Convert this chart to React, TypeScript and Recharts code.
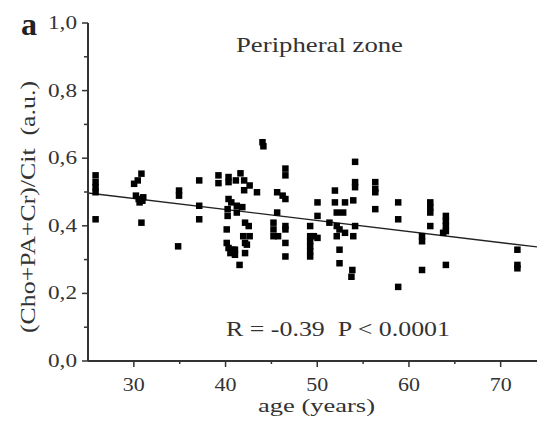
import React from 'react';
import { ScatterChart, Scatter, XAxis, YAxis, ReferenceLine } from 'recharts';

const ages: number[] = [
  25.8, 25.8, 25.8, 25.8, 25.8,
  30.0, 30.4, 30.8, 30.2, 30.5, 30.9, 30.6, 31.0, 30.8,
  34.9, 34.9, 34.8,
  37.1, 37.1, 37.1,
  39.2, 39.2, 40.3, 40.3, 40.3, 40.2, 40.2, 40.1, 40.1, 40.3, 40.5, 40.8, 41.0,
  41.2, 41.8, 42.1, 42.1, 42.1, 41.5, 41.6, 42.0, 42.0, 42.6, 43.4, 41.1, 41.2,
  42.5, 41.9, 42.6, 42.3, 41.0, 40.6,
  44.0, 44.1,
  45.6, 46.2, 46.5, 45.6, 45.2, 45.2, 46.5, 46.5, 46.5, 46.5, 45.2, 45.7, 46.5, 46.5,
  50.0, 50.0, 49.2, 49.2, 49.2, 49.2, 49.2, 49.2, 50.0, 49.6,
  51.9, 51.9, 53.0, 52.1, 52.8, 51.3, 52.1, 52.4, 52.1, 53.0, 52.4, 52.4, 53.8, 53.7,
  54.1, 54.1, 54.1, 53.9, 54.1, 53.9,
  56.3, 56.3, 56.3, 56.3,
  58.8, 58.8, 58.8,
  61.4, 61.4, 61.4,
  62.3, 62.3, 62.3, 62.3,
  64.0, 64.0, 64.0, 64.0, 63.7, 64.0,
  71.8, 71.8, 71.8,
];

const ratios: number[] = [
  0.55, 0.53, 0.515, 0.50, 0.42,
  0.525, 0.535, 0.555, 0.49, 0.48, 0.475, 0.47, 0.485, 0.41,
  0.505, 0.49, 0.34,
  0.535, 0.46, 0.42,
  0.55, 0.527, 0.545, 0.53, 0.48, 0.45, 0.43, 0.39, 0.35, 0.335, 0.32, 0.33, 0.315,
  0.46, 0.456, 0.41, 0.35, 0.32, 0.285, 0.556, 0.535, 0.506, 0.52, 0.50, 0.535, 0.44,
  0.40, 0.37, 0.37, 0.345, 0.33, 0.47,
  0.648, 0.636,
  0.50, 0.49, 0.48, 0.44, 0.41, 0.39, 0.57, 0.55, 0.40, 0.39, 0.37, 0.37, 0.35, 0.31,
  0.47, 0.43, 0.40, 0.37, 0.355, 0.34, 0.325, 0.31, 0.365, 0.37,
  0.505, 0.47, 0.47, 0.44, 0.44, 0.41, 0.40, 0.39, 0.37, 0.38, 0.33, 0.29, 0.27, 0.25,
  0.59, 0.53, 0.515, 0.476, 0.40, 0.37,
  0.53, 0.51, 0.50, 0.45,
  0.47, 0.42, 0.22,
  0.37, 0.355, 0.27,
  0.47, 0.455, 0.44, 0.40,
  0.43, 0.415, 0.40, 0.385, 0.38, 0.285,
  0.33, 0.285, 0.275,
];

const fitAges: number[] = [25, 75];
const fitValues: number[] = [0.497, 0.334];

const xTicks: number[] = [30, 35, 40, 45, 50, 55, 60, 65, 70, 75];
const yTicks: number[] = [0, 0.1, 0.2, 0.3, 0.4, 0.5, 0.6, 0.7, 0.8, 0.9, 1.0];

const points = ages.map((a, i) => ({ age: a, v: ratios[i] }));

const SERIF = "'Liberation Serif', 'Times New Roman', serif";
const INK = '#333';

const YTick = (props: any) => {
  const { x, y, payload } = props;
  const v: number = payload.value;
  const major = Math.round(v * 10) % 2 === 0;
  return (
    <g>
      <line x1={x - (major ? 6 : 4)} x2={x} y1={y} y2={y} stroke={INK} strokeWidth={1.5} />
      {major && (
        <text
          x={x - 11}
          y={y + 6}
          textAnchor="end"
          fontFamily={SERIF}
          fontSize={19}
          fill={INK}
          textLength={29}
          lengthAdjust="spacingAndGlyphs"
        >
          {v.toFixed(1).replace('.', ',')}
        </text>
      )}
    </g>
  );
};

const XTick = (props: any) => {
  const { x, y, payload } = props;
  const v: number = payload.value;
  const major = v % 10 === 0;
  return (
    <g>
      <line x1={x} x2={x} y1={y} y2={y + (major ? 6 : 3)} stroke={INK} strokeWidth={1.5} />
      {major && (
        <text
          x={x}
          y={y + 30}
          textAnchor="middle"
          fontFamily={SERIF}
          fontSize={18}
          fill={INK}
          textLength={22}
          lengthAdjust="spacingAndGlyphs"
        >
          {v}
        </text>
      )}
    </g>
  );
};

const SquareDot = (props: any) => {
  const { cx, cy } = props;
  if (cx == null || cy == null) return null;
  return <rect x={cx - 3} y={cy - 3} width={6.5} height={6.5} fill="#000" />;
};

export default function App() {
  return (
    <div style={{ position: 'fixed', left: 0, top: 0, width: 537, height: 421, overflow: 'hidden', background: '#fff' }}>
      <ScatterChart width={560} height={421} margin={{ top: 23, right: 13.5, bottom: 0, left: 0 }}>
        <XAxis
          dataKey="age"
          type="number"
          domain={[25, 75]}
          ticks={xTicks}
          interval={0}
          height={60}
          tickSize={0}
          tickMargin={0}
          tickLine={false}
          tick={<XTick />}
          axisLine={{ stroke: INK, strokeWidth: 2 }}
          allowDataOverflow
        />
        <YAxis
          dataKey="v"
          type="number"
          domain={[0, 1]}
          ticks={yTicks}
          interval={0}
          width={88}
          tickSize={0}
          tickMargin={0}
          tickLine={false}
          tick={<YTick />}
          axisLine={{ stroke: INK, strokeWidth: 2 }}
        />
        <ReferenceLine
          segment={[
            { x: fitAges[0], y: fitValues[0] },
            { x: fitAges[1], y: fitValues[1] },
          ]}
          stroke="#222"
          strokeWidth={1.3}
          ifOverflow="visible"
        />
        <Scatter data={points} shape={<SquareDot />} isAnimationActive={false} />
      </ScatterChart>
      <svg width={537} height={421} style={{ position: 'absolute', left: 0, top: 0, pointerEvents: 'none' }}>
        <text x={21} y={35} fontFamily={SERIF} fontWeight="bold" fontSize={32} fill="#222">a</text>
        <text x={236} y={52} fontFamily={SERIF} fontSize={21} fill={INK} textLength={167} lengthAdjust="spacingAndGlyphs">
          Peripheral zone
        </text>
        <text x={226} y={336} fontFamily={SERIF} fontSize={22} fill={INK} textLength={224} lengthAdjust="spacingAndGlyphs" xmlSpace="preserve">
          R = -0.39  P &lt; 0.0001
        </text>
        <text x={258} y={412} fontFamily={SERIF} fontSize={18} fill={INK} textLength={117} lengthAdjust="spacingAndGlyphs">
          age (years)
        </text>
        <text
          transform="translate(35,333) rotate(-90)"
          x={0}
          y={0}
          fontFamily={SERIF}
          fontSize={21}
          fill={INK}
          textLength={252}
          lengthAdjust="spacingAndGlyphs"
          xmlSpace="preserve"
        >
          (Cho+PA+Cr)/Cit  (a.u.)
        </text>
      </svg>
    </div>
  );
}
